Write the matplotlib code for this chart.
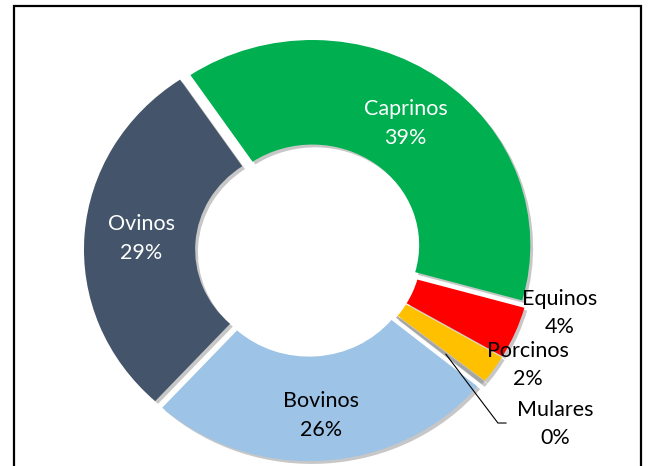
import matplotlib.pyplot as plt
import matplotlib.patches as mpatches
from matplotlib import patheffects
import numpy as np

# shares by species (%), clockwise from Caprinos
species = ['Caprinos', 'Equinos', 'Porcinos', 'Mulares', 'Bovinos', 'Ovinos']
shares = [38.8, 4.1, 2.2, 0.3, 25.8, 28.8]
colors = ['#00B050', '#FF0000', '#FFC000', '#A5A5A5', '#9DC3E6', '#44546A']
text_cols = ['white', 'black', 'black', 'black', 'black', 'white']

plt.rcParams['font.family'] = ['Lato', 'DejaVu Sans']

fig = plt.figure(figsize=(6.49, 4.66), dpi=100)
fig.set_facecolor('white')
ax = fig.add_axes([0, 0, 1, 1])

wedges, _ = ax.pie(shares, colors=colors, startangle=124, counterclock=False,
                   explode=[0.03] * len(shares),
                   wedgeprops=dict(width=0.51, linewidth=0))

shadow = [patheffects.SimplePatchShadow(offset=(2, -2), shadow_rgbFace='k', alpha=0.22),
          patheffects.Normal()]
for w in wedges:
    w.set_path_effects(shadow)

# pixel-ish mapping: ring is a bit wider than tall in the reference
rx, ry = 218.0, 205.0
cx, cy = 308.5, 250.0
ax.set_aspect('auto')
ax.set_xlim(-cx / rx, (649 - cx) / rx)
ax.set_ylim(-(466 - cy) / ry, cy / ry)
ax.axis('off')

def mid(w, r):
    a = np.deg2rad((w.theta1 + w.theta2) / 2)
    return w.center[0] + r * np.cos(a), w.center[1] + r * np.sin(a)

fs = 15.5
inside_r = {'Caprinos': 0.73, 'Ovinos': 0.74, 'Bovinos': 0.78}
side_pos = {'Equinos': (1.154, -0.307), 'Porcinos': (1.007, -0.561), 'Mulares': (1.131, -0.849)}

for w, name, v, tc in zip(wedges, species, shares, text_cols):
    txt = f'{name}\n{round(v):.0f}%'
    if name in inside_r:
        x, y = mid(w, inside_r[name])
    else:
        x, y = side_pos[name]
    ax.text(x, y, txt, ha='center', va='center', fontsize=fs, color=tc,
            linespacing=1.55)

# leader line for Mulares
mw = wedges[species.index('Mulares')]
sx, sy = mid(mw, 0.78)
ax.plot([sx, 0.869, 0.906], [sy, -0.844, -0.844], color='black', lw=0.8)

# chart border
fig.patches.append(mpatches.Rectangle((13.5 / 649, -0.05), (640.5 - 13.5) / 649, 1.05 - 6 / 466,
                                      transform=fig.transFigure, fill=False,
                                      edgecolor='black', linewidth=1.6))

plt.savefig('out.png', dpi=100)
